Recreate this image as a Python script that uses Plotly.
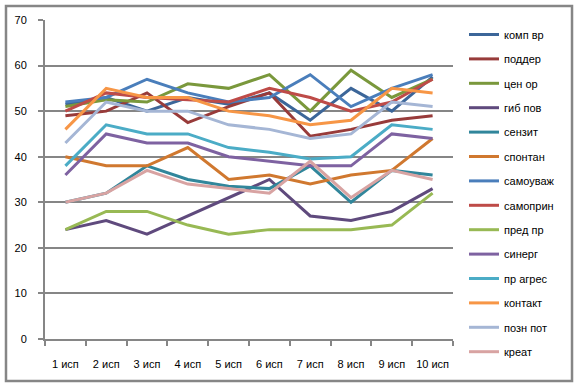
import plotly.graph_objects as go

categories = ["1 исп", "2 исп", "3 исп", "4 исп", "5 исп", "6 исп", "7 исп", "8 исп", "9 исп", "10 исп"]

komp_vr   = [51.5, 53, 50, 53, 51.5, 54, 48, 55, 50, 57.5]
podder    = [49, 50, 54, 47.5, 51, 54, 44.5, 46, 48, 49]
cen_or    = [51, 52.5, 52, 56, 55, 58, 50, 59, 53, 57]
gib_pov   = [24, 26, 23, 27, 31, 35, 27, 26, 28, 33]
senzit    = [30, 32, 38, 35, 33.5, 33, 38, 30, 37, 36]
spontan   = [40, 38, 38, 42, 35, 36, 34, 36, 37, 44]
samouvazh = [52, 53, 57, 54, 52, 53, 58, 51, 55, 58]
samoprin  = [50, 54, 53, 52.5, 52, 55, 53, 50, 52, 57]
pred_pr   = [24, 28, 28, 25, 23, 24, 24, 24, 25, 32]
sinerg    = [36, 45, 43, 43, 40, 39, 38, 38, 45, 44]
pr_agres  = [38, 47, 45, 45, 42, 41, 39.5, 40, 47, 46]
kontakt   = [46, 55, 53, 53, 50, 49, 47, 48, 55, 54]
pozn_pot  = [43, 52, 50, 50, 47, 46, 44, 45, 52, 51]
kreat     = [30, 32, 37, 34, 33, 32, 39, 31, 37, 35]

series_names = ["комп вр", "поддер", "цен ор", "гиб пов", "сензит", "спонтан", "самоуваж",
                "самоприн", "пред пр", "синерг", "пр агрес", "контакт", "позн пот", "креат"]
series_values = [komp_vr, podder, cen_or, gib_pov, senzit, spontan, samouvazh,
                 samoprin, pred_pr, sinerg, pr_agres, kontakt, pozn_pot, kreat]
colors = ["#3C6699", "#983B3A", "#7A983C", "#5F4A7D", "#31869B", "#D0782F", "#4A7EBB",
          "#BE4B48", "#98B954", "#7E62A1", "#4BACC6", "#F79646", "#A5B6D5", "#D8A3A2"]

FONT = "Liberation Sans"
fig = go.Figure()
for i, (name, vals, col) in enumerate(zip(series_names, series_values, colors)):
    fig.add_trace(go.Scatter(x=categories, y=vals, mode="lines", name=name,
                             legendgroup=f"g{i}",
                             line=dict(color=col, width=3)))

fig.update_layout(
    width=576, height=387,
    margin=dict(l=45, r=123, t=20, b=48, autoexpand=False),
    paper_bgcolor="white", plot_bgcolor="white",
    font=dict(family=FONT, size=11, color="#000000"),
    showlegend=True,
    legend=dict(x=1.027, y=1.0, xanchor="left", yanchor="top",
                font=dict(family=FONT, size=11, color="#000000"),
                tracegroupgap=5.4, itemwidth=30, bgcolor="rgba(0,0,0,0)",
                maxheight=600),
    xaxis=dict(type="category", range=[-0.5, 9.5], showgrid=False, showline=True,
               linecolor="#868686", linewidth=2, tickangle=0,
               ticks="outside", ticklen=5, tickcolor="#868686", tickwidth=2,
               tickson="boundaries", ticklabelstandoff=14, zeroline=False, automargin=False,
               tickfont=dict(family=FONT, size=11, color="#000000")),
    yaxis=dict(range=[0, 70], dtick=10, showgrid=True, gridcolor="#868686", gridwidth=2,
               showline=True, linecolor="#868686", linewidth=2, zeroline=False,
               ticks="outside", ticklen=5, tickcolor="#868686", tickwidth=2,
               ticklabelstandoff=9, automargin=False,
               tickfont=dict(family=FONT, size=11, color="#000000")),
)

# outer chart border
fig.add_shape(type="rect", xref="paper", yref="paper",
              x0=-0.0956, x1=1.2917, y0=-0.1317, y1=1.0439,
              line=dict(color="#868686", width=2.5), fillcolor="rgba(0,0,0,0)", layer="above")

fig.write_html("out.html", config={"displayModeBar": False},
               post_script="document.body.style.margin='0';document.body.style.padding='0';")
